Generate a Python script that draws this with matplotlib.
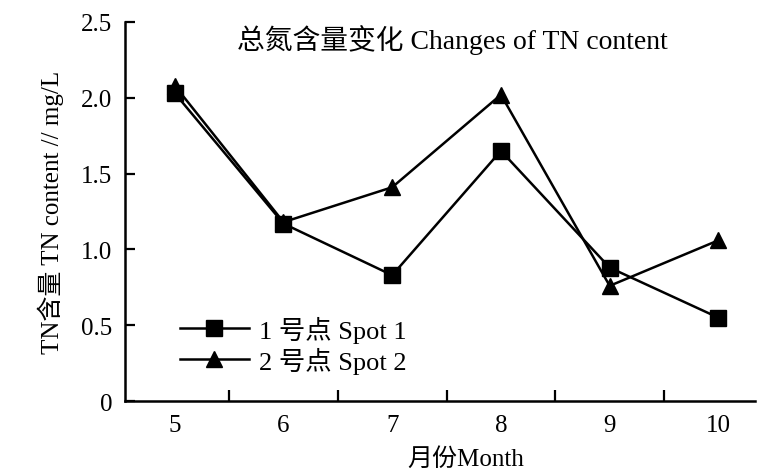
import matplotlib
matplotlib.use("Agg")
import matplotlib.pyplot as plt

# months and TN content (mg/L)
months = [5, 6, 7, 8, 9, 10]
spot1 = [2.03, 1.17, 0.83, 1.65, 0.88, 0.55]
spot2 = [2.08, 1.18, 1.41, 2.02, 0.76, 1.06]

labels = ["1 号点 Spot 1", "2 号点 Spot 2"]
yticks = [0, 0.5, 1.0, 1.5, 2.0, 2.5]
yticklabels = ["0", "0.5", "1.0", "1.5", "2.0", "2.5"]

plt.rcParams['font.family'] = ['Liberation Serif', 'Noto Sans CJK SC']
plt.rcParams['axes.unicode_minus'] = False

fig = plt.figure(figsize=(7.7, 4.77), dpi=100)
ax = fig.add_axes([0.162, 0.157, 0.819, 0.795])

ax.plot(months, spot1, color='black', lw=1.8, marker='s', ms=11, label=labels[0])
ax.plot(months, spot2, color='black', lw=1.8, marker='^', ms=12, label=labels[1])

ax.set_xlim(4.54, 10.34)
ax.set_ylim(0, 2.5)

# labels on the months, tick marks between them
ax.set_xticks(months)
ax.set_xticklabels([str(m) for m in months], fontsize=18)
ax.set_xticks([m + 0.5 for m in months[:-1]], minor=True)
ax.tick_params(axis='x', which='major', length=0, pad=9)
ax.tick_params(axis='x', which='minor', direction='in', length=8, width=1.6)

ax.set_yticks(yticks)
ax.set_yticklabels(yticklabels, fontsize=18)
ax.tick_params(axis='y', direction='in', length=7, width=1.6, pad=9)

for s in ['top', 'right']:
    ax.spines[s].set_visible(False)
for s in ['left', 'bottom']:
    ax.spines[s].set_linewidth(1.8)

ax.text(0.52, 0.955, "总氮含量变化 Changes of TN content", transform=ax.transAxes,
        ha='center', va='center', fontsize=20)
ax.set_xlabel("月份Month", fontsize=18, labelpad=8)
ax.xaxis.set_label_coords(0.54, -0.12)
ax.set_ylabel("TN含量 TN content // mg/L", fontsize=18, labelpad=12)

ax.legend(loc='lower left', bbox_to_anchor=(0.05, 0.01), frameon=False,
          fontsize=19, handlelength=2.6, handletextpad=0.4, labelspacing=0.15)

fig.savefig("out.png", dpi=100)
